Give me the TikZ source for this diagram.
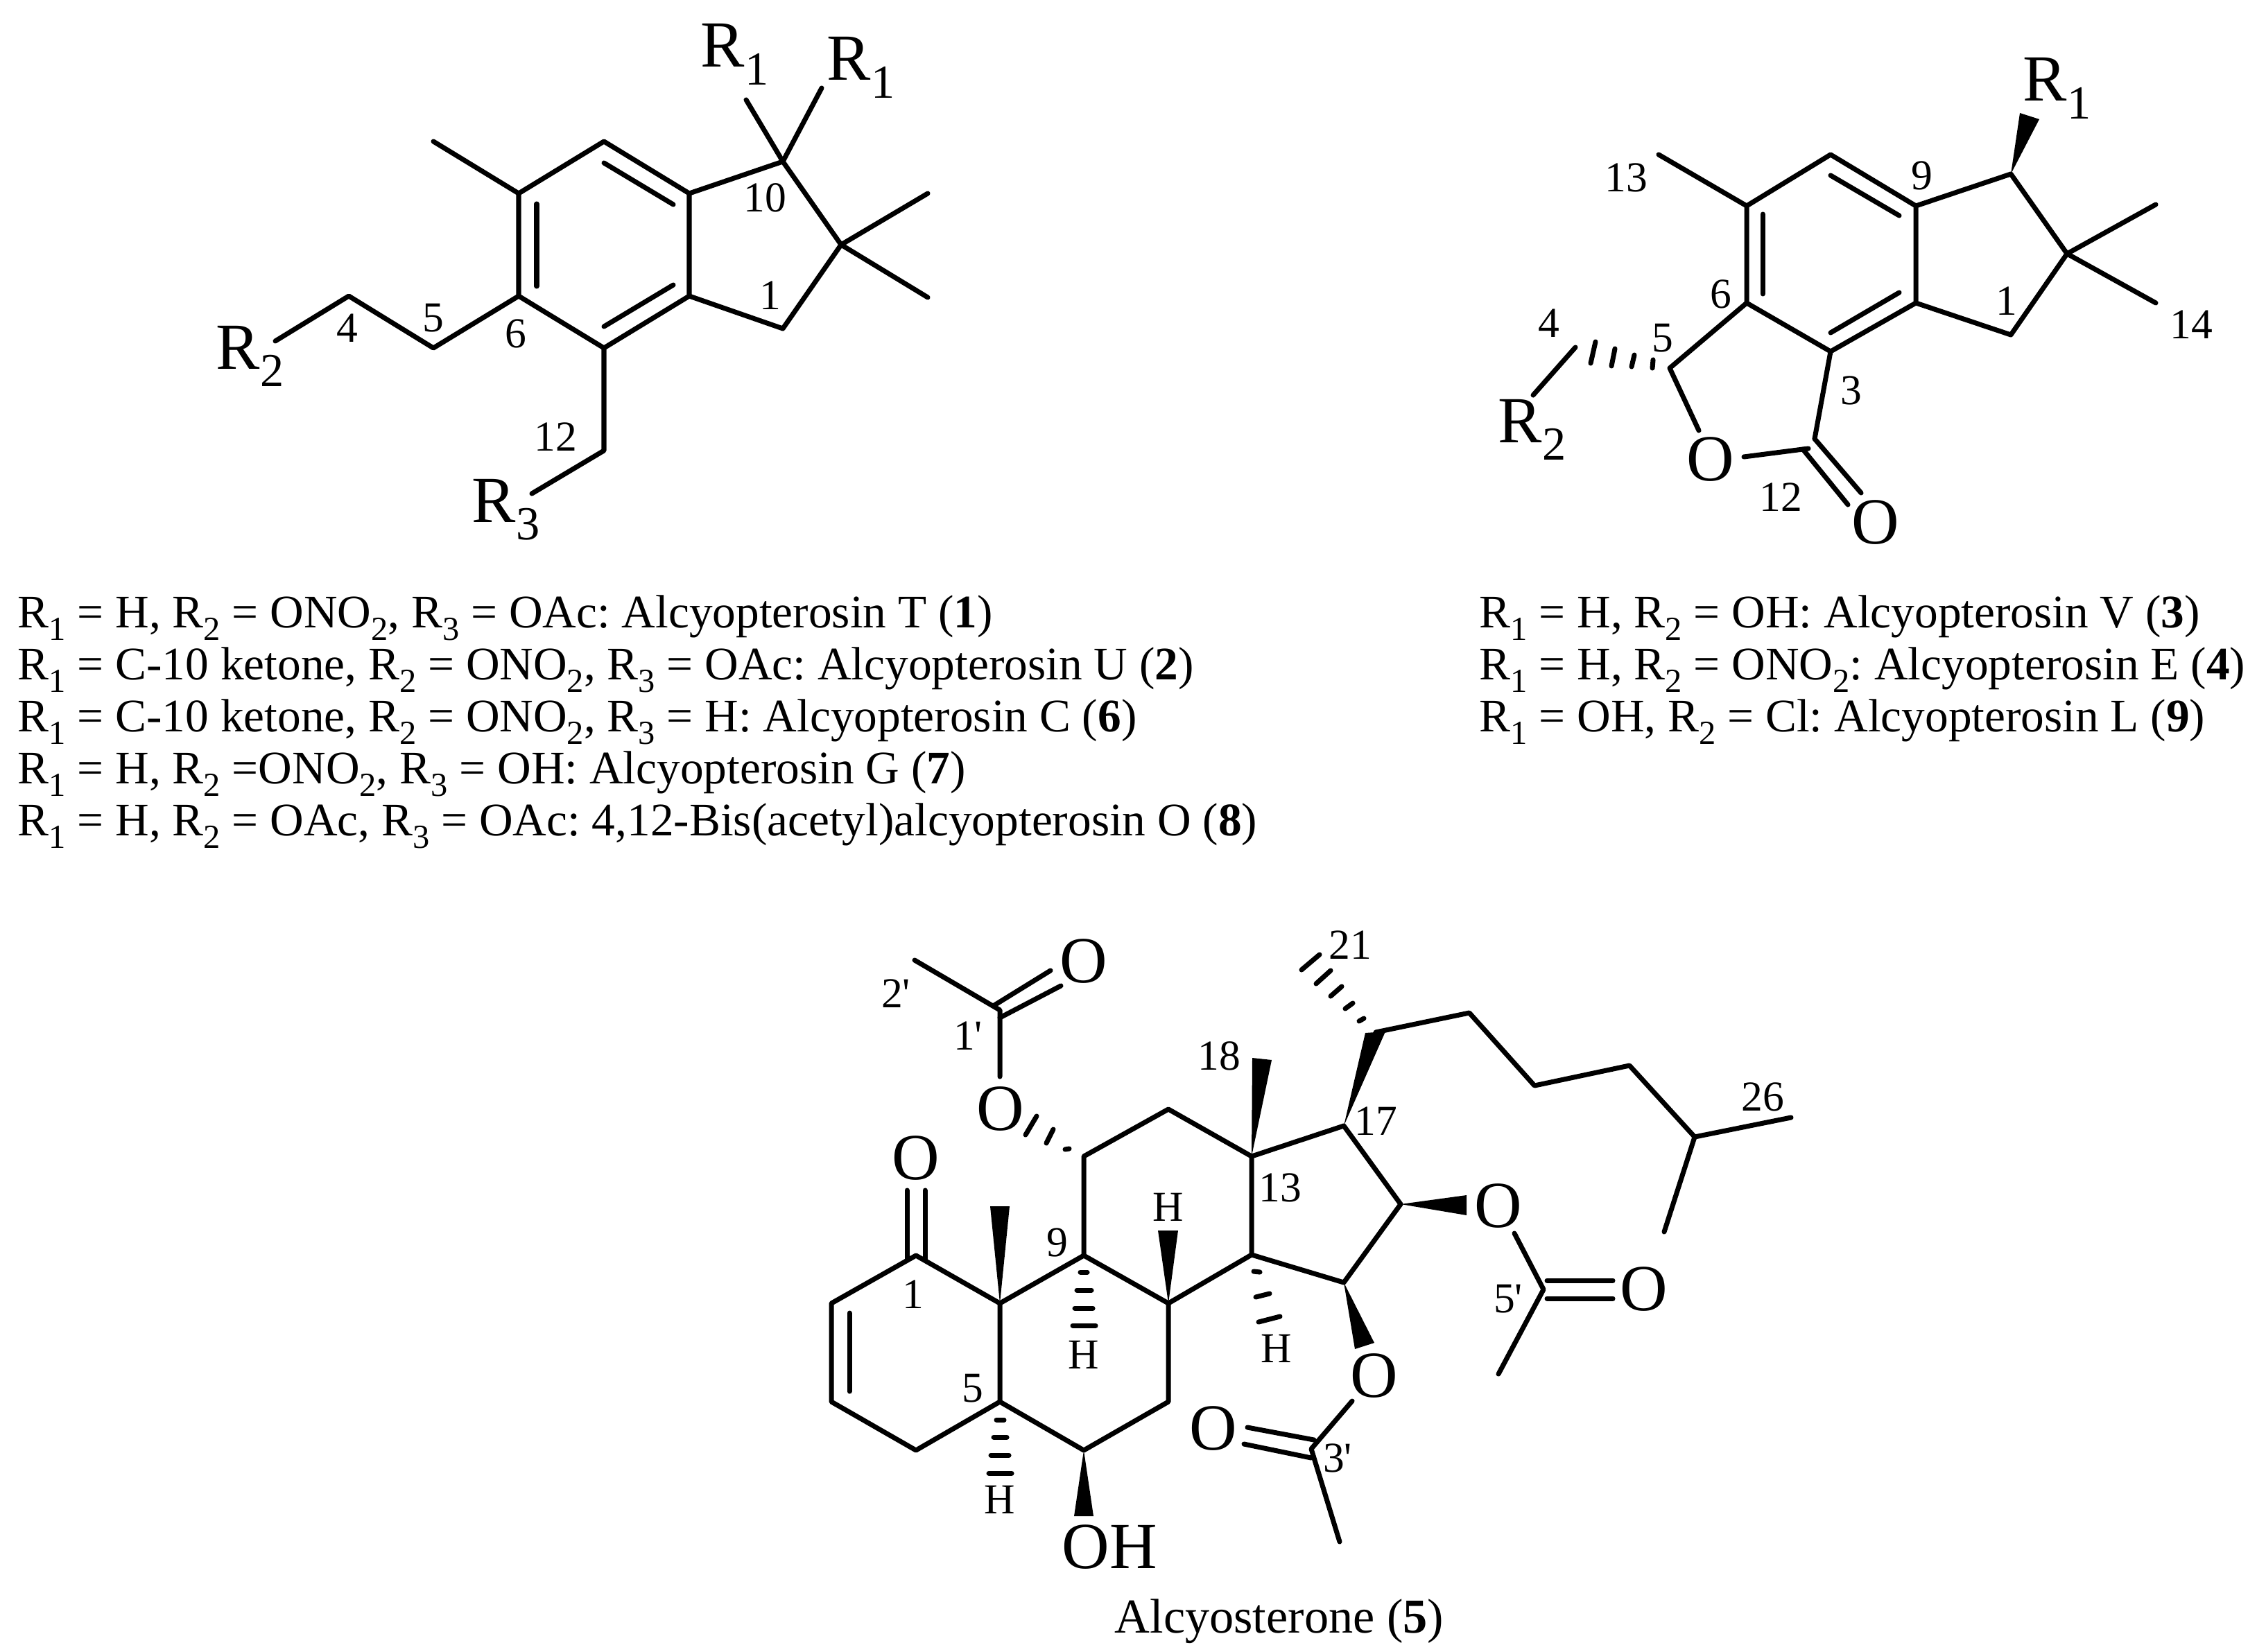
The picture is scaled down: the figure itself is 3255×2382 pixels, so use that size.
\documentclass[tikz,border=0pt]{standalone}
\usepackage{fontspec}
\setmainfont{Liberation Serif}
\frenchspacing
\newcommand{\low}[1]{\raisebox{-.27em}{\scalebox{.72}{#1}}}
\newcommand{\pr}{\textquotesingle}
\tikzset{
  bond/.style={line width=2pt, line cap=round, line join=round},
  wedgeb/.style={fill=black},
  atom/.style={inner sep=0pt, font=\fontsize{27}{30}\selectfont},
  atomb/.style={atom, anchor=base west},
  num/.style={inner sep=0pt, font=\fontsize{17.5}{20}\selectfont},
  rowtext/.style={inner sep=0pt, anchor=base west, font=\fontsize{19.15}{22}\selectfont},
}
\begin{document}
\begin{tikzpicture}[x=.01cm,y=-.01cm]
      \useasboundingbox (0,0) rectangle (3255,2382);
      % --- left scaffold ---
      \coordinate (a1) at (871,204); \coordinate (a2) at (994,279); \coordinate (a3) at (994,427);
      \coordinate (a4) at (871,502); \coordinate (a5) at (748,427); \coordinate (a6) at (748,279);
      \coordinate (aten) at (1129,233); \coordinate (aq) at (1213,353); \coordinate (aone) at (1129,474);
      \coordinate (ame) at (625,204); \coordinate (aq1) at (1338,279); \coordinate (aq2) at (1338,429);
      \coordinate (ar1a) at (1076,144); \coordinate (ar1b) at (1185,127);
      \coordinate (ac5) at (625,502); \coordinate (ac4) at (503,427); \coordinate (ar2) at (397,492);
      \coordinate (ac12) at (871,650); \coordinate (ar3) at (767,712);
      \coordinate (ain1) at (871,235); \coordinate (ain2) at (971,295);
      \coordinate (ain3) at (774,294); \coordinate (ain4) at (774,413);
      \coordinate (ain5) at (971,411); \coordinate (ain6) at (871,471);
      % ring
      \draw[bond] (a1) -- (a2) -- (a3) -- (a4) -- (a5) -- (a6) -- cycle;
      \draw[bond] (a2) -- (aten) -- (aq) -- (aone) -- (a3);
      \draw[bond] (ain1) -- (ain2);
      \draw[bond] (ain3) -- (ain4);
      \draw[bond] (ain5) -- (ain6);
      % substituents
      \draw[bond] (a6) -- (ame);
      \draw[bond] (aq1) -- (aq) -- (aq2);
      \draw[bond] (ar1a) -- (aten) -- (ar1b);
      \draw[bond] (a5) -- (ac5) -- (ac4) -- (ar2);
      \draw[bond] (a4) -- (ac12) -- (ar3);
      % labels
      \node[atomb] (lr1a) at (1010,97) {R\low{1}};
      \node[atomb] (lr1b) at (1192,116) {R\low{1}};
      \node[atomb] (lr2) at (311,532) {R\low{2}};
      \node[atomb] (lr3) at (680,753) {R\low{3}};
      \node[num] (n10) at (1103,285) {10};
      \node[num] (n1) at (1111,426) {1};
      \node[num] (n5) at (625,459) {5};
      \node[num] (n4) at (501,473) {4};
      \node[num] (n6) at (744,481) {6};
      \node[num] (n12) at (801,630) {12};
      % --- right scaffold ---
      \coordinate (b1) at (2640,223); \coordinate (b2) at (2763,297); \coordinate (b3) at (2763,437);
      \coordinate (b4) at (2640,507); \coordinate (b5) at (2519,437); \coordinate (b6) at (2519,297);
      \coordinate (bten) at (2900,251); \coordinate (bq) at (2981,366); \coordinate (bone) at (2900,483);
      \coordinate (bme) at (2392,223); \coordinate (bq1) at (3109,295); \coordinate (bq2) at (3109,437);
      \coordinate (bc5) at (2408,531); \coordinate (bo) at (2450,621); \coordinate (bc12) at (2617,633);
      \coordinate (bc12b) at (2608,647); \coordinate (bo2) at (2515,659);
      \coordinate (bco1) at (2684,711); \coordinate (bco2) at (2600,648); \coordinate (bco3) at (2665,728);
      \coordinate (bc4) at (2272,501); \coordinate (br2) at (2211,570);
      \coordinate (bin1) at (2640,253); \coordinate (bin2) at (2739,311);
      \coordinate (bin3) at (2542,309); \coordinate (bin4) at (2542,424);
      \coordinate (bin5) at (2739,422); \coordinate (bin6) at (2640,480);
      % ring
      \draw[bond] (b1) -- (b2) -- (b3) -- (b4) -- (b5) -- (b6) -- cycle;
      \draw[bond] (b2) -- (bten) -- (bq) -- (bone) -- (b3);
      \draw[bond] (bin1) -- (bin2);
      \draw[bond] (bin3) -- (bin4);
      \draw[bond] (bin5) -- (bin6);
      % lactone
      \draw[bond] (b5) -- (bc5) -- (bo);
      \draw[bond] (b4) -- (bc12);
      \draw[bond] (bo2) -- (bc12b);
      \draw[bond] (bc12) -- (bco1);
      \draw[bond] (bco2) -- (bco3);
      % substituents
      \draw[bond] (b6) -- (bme);
      \draw[bond] (bq1) -- (bq) -- (bq2);
      \draw[bond] (bc4) -- (br2);
      \fill[wedgeb] (bten) -- (2913,163) -- (2941,172) -- cycle;
      \foreach \xa/\ya/\xb/\yb in {2383/531/2384/519,2353/529/2357/512,2324/528/2329/503,2294/524/2301/493}
        \draw[bond] (\xa,\ya) -- (\xb,\yb);
      % labels
      \node[atomb] (mr1) at (2917,146) {R\low{1}};
      \node[atomb] (mr2) at (2160,638) {R\low{2}};
      \node[atom] (mo) at (2467,663) {O};
      \node[atom] (mo2) at (2705,754) {O};
      \node[num] (m13) at (2345,256) {13};
      \node[num] (m9) at (2772,253) {9};
      \node[num] (m6) at (2482,424) {6};
      \node[num] (m4) at (2234,466) {4};
      \node[num] (m5) at (2398,488) {5};
      \node[num] (m3) at (2670,563) {3};
      \node[num] (m1) at (2894,434) {1};
      \node[num] (m14) at (3160,468) {14};
      \node[num] (m12) at (2568,717) {12};
      % --- lists ---
      \node[rowtext] (ta) at (25,905) {R\low{1} = H, R\low{2} = ONO\low{2}, R\low{3} = OAc: Alcyopterosin T (\textbf{1})};
      \node[rowtext] (tb) at (25,980) {R\low{1} = C-10 ketone, R\low{2} = ONO\low{2}, R\low{3} = OAc: Alcyopterosin U (\textbf{2})};
      \node[rowtext] (tc) at (25,1055) {R\low{1} = C-10 ketone, R\low{2} = ONO\low{2}, R\low{3} = H: Alcyopterosin C (\textbf{6})};
      \node[rowtext] (td) at (25,1130) {R\low{1} = H, R\low{2} =ONO\low{2}, R\low{3} = OH: Alcyopterosin G (\textbf{7})};
      \node[rowtext] (te) at (25,1205) {R\low{1} = H, R\low{2} = OAc, R\low{3} = OAc: 4,12-Bis(acetyl)alcyopterosin O (\textbf{8})};
      \node[rowtext] (tf) at (2133,905) {R\low{1} = H, R\low{2} = OH: Alcyopterosin V (\textbf{3})};
      \node[rowtext] (tg) at (2133,980) {R\low{1} = H, R\low{2} = ONO\low{2}: Alcyopterosin E (\textbf{4})};
      \node[rowtext] (th) at (2133,1055) {R\low{1} = OH, R\low{2} = Cl: Alcyopterosin L (\textbf{9})};
      % --- steroid ---
      \coordinate (c1) at (1321,1811); \coordinate (c2) at (1199,1880); \coordinate (c3) at (1199,2022);
      \coordinate (c4) at (1321,2092); \coordinate (c5) at (1442,2022); \coordinate (c10) at (1442,1880);
      \coordinate (c6) at (1563,2092); \coordinate (c7) at (1685,2022); \coordinate (c8) at (1685,1880);
      \coordinate (c9) at (1563,1811); \coordinate (c11) at (1563,1668); \coordinate (c12) at (1685,1600);
      \coordinate (c13) at (1805,1668); \coordinate (c14) at (1805,1810); \coordinate (c15) at (1938,1850);
      \coordinate (c16) at (2020,1737); \coordinate (c17) at (1938,1624);
      \coordinate (c20) at (1984,1489); \coordinate (c22) at (2119,1461); \coordinate (c23) at (2213,1566);
      \coordinate (c24) at (2350,1537); \coordinate (c25) at (2444,1640); \coordinate (c26) at (2583,1612);
      \coordinate (c27) at (2400,1777);
      \coordinate (cin1) at (1225,1894); \coordinate (cin2) at (1225,2007);
      \coordinate (co1a) at (1308,1717); \coordinate (co1b) at (1308,1818);
      \coordinate (co2a) at (1334,1717); \coordinate (co2b) at (1334,1818);
      % rings
      \draw[bond] (c1) -- (c2) -- (c3) -- (c4) -- (c5) -- (c10) -- cycle;
      \draw[bond] (c5) -- (c6) -- (c7) -- (c8) -- (c9) -- (c10);
      \draw[bond] (c9) -- (c11) -- (c12) -- (c13) -- (c14) -- (c8);
      \draw[bond] (c13) -- (c17) -- (c16) -- (c15) -- (c14);
      \draw[bond] (cin1) -- (cin2);
      \draw[bond] (co1a) -- (co1b);
      \draw[bond] (co2a) -- (co2b);
      % side chain
      \draw[bond] (c20) -- (c22) -- (c23) -- (c24) -- (c25) -- (c26);
      \draw[bond] (c25) -- (c27);
      % acetate on 11
      \coordinate (d1) at (1442,1457); \coordinate (d2) at (1319,1385); \coordinate (d3) at (1442,1553);
      \coordinate (d4) at (1434,1450); \coordinate (d5) at (1515,1400);
      \coordinate (d6) at (1442,1468); \coordinate (d7) at (1530,1422);
      \draw[bond] (d2) -- (d1) -- (d3);
      \draw[bond] (d4) -- (d5);
      \draw[bond] (d6) -- (d7);
      % acetate on 16
      \coordinate (e1) at (2226,1860); \coordinate (e2) at (2184,1779); \coordinate (e3) at (2161,1982);
      \coordinate (e4) at (2231,1847); \coordinate (e5) at (2326,1847);
      \coordinate (e6) at (2231,1873); \coordinate (e7) at (2326,1873);
      \draw[bond] (e2) -- (e1) -- (e3);
      \draw[bond] (e4) -- (e5);
      \draw[bond] (e6) -- (e7);
      % acetate on 15
      \coordinate (f1) at (1891,2090); \coordinate (f2) at (1950,2021); \coordinate (f3) at (1932,2224);
      \coordinate (f4) at (1799,2059); \coordinate (f5) at (1895,2077);
      \coordinate (f6) at (1794,2083); \coordinate (f7) at (1891,2103);
      \draw[bond] (f2) -- (f1) -- (f3);
      \draw[bond] (f4) -- (f5);
      \draw[bond] (f6) -- (f7);
      % wedges
      \fill[wedgeb] (c10) -- (1428,1740) -- (1456,1740) -- cycle;
      \fill[wedgeb] (c8) -- (1670,1775) -- (1699,1775) -- cycle;
      \fill[wedgeb] (c13) -- (1806,1526) -- (1834,1529) -- cycle;
      \fill[wedgeb] (c6) -- (1549,2187) -- (1577,2187) -- cycle;
      \fill[wedgeb] (c17) -- (1969,1490) -- (1998,1488) -- cycle;
      \fill[wedgeb] (c16) -- (2115,1724) -- (2115,1753) -- cycle;
      \fill[wedgeb] (c15) -- (1954,1946) -- (1982,1937) -- cycle;
      % hashes
      \foreach \xa/\ya/\xb/\yb in {1558/1835/1568/1835,1553/1861/1574/1861,1550/1887/1576/1887,1547/1912/1580/1912,
        1437/2048/1448/2048,1433/2073/1452/2073,1429/2099/1455/2099,1426/2125/1459/2125,
        1808/1834/1817/1835,1811/1871/1831/1866,1815/1907/1846/1899,
        1536/1658/1542/1657,1509/1649/1519/1629,1479/1637/1495/1610,
        1960/1473/1967/1469,1940/1455/1951/1447,1919/1437/1935/1423,1898/1419/1919/1400,1877/1399/1903/1377}
        \draw[bond] (\xa,\ya) -- (\xb,\yb);
      % labels
      \node[atom] (po1) at (1321,1671) {O};
      \node[atom] (po2) at (1443,1600) {O};
      \node[atom] (po3) at (1563,1387) {O};
      \node[atom] (po4) at (2161,1740) {O};
      \node[atom] (po5) at (2371,1860) {O};
      \node[atom] (po6) at (1982,1985) {O};
      \node[atom] (po7) at (1750,2061) {O};
      \node[atomb] (poh) at (1531,2262) {OH};
      \node[num] (ph1) at (1563,1954) {H};
      \node[num] (ph2) at (1442,2163) {H};
      \node[num] (ph3) at (1685,1741) {H};
      \node[num] (ph4) at (1841,1945) {H};
      \node[num] (p2p) at (1292,1433) {2\pr};
      \node[num] (p1p) at (1396,1494) {1\pr};
      \node[num] (p1) at (1317,1867) {1};
      \node[num] (p9) at (1525,1792) {9};
      \node[num] (p5) at (1403,2003) {5};
      \node[num] (p21) at (1947,1363) {21};
      \node[num] (p18) at (1758,1523) {18};
      \node[num] (p17) at (1984,1617) {17};
      \node[num] (p13) at (1846,1713) {13};
      \node[num] (p26) at (2542,1582) {26};
      \node[num] (p5p) at (2175,1874) {5\pr};
      \node[num] (p3p) at (1929,2103) {3\pr};
      \node[rowtext, anchor=base, font=\fontsize{20}{22}\selectfont] (pname) at (1845,2355) {Alcyosterone (\textbf{5})};
\end{tikzpicture}
\end{document}
